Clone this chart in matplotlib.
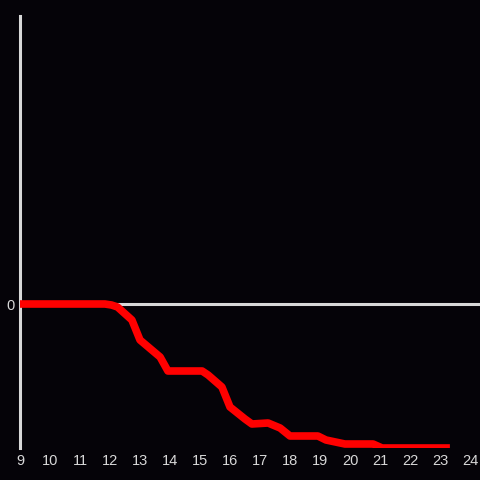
import matplotlib
matplotlib.use("Agg")
import matplotlib.pyplot as plt

# hour of day and running value (arbitrary units, 0 = baseline)
hours = [9.0, 11.83, 12.05, 12.25, 12.73, 13.0, 13.67, 13.93, 15.07, 15.27,
         15.73, 16.0, 16.5, 16.73, 17.27, 17.67, 18.0, 18.93, 19.2, 19.83,
         20.77, 21.07, 23.33]
values = [0, 0, -1, -3, -16, -36, -53, -67, -67, -71,
          -83, -103, -115, -120, -119, -124, -132, -132, -136, -140,
          -140, -144, -144]
xticks = list(range(9, 25))

bg = "#050308"
fg = "#d8d8d8"

plt.rcParams["font.family"] = ["Liberation Sans", "DejaVu Sans"]

fig = plt.figure(figsize=(4.8, 4.8), dpi=100, facecolor=bg)
ax = fig.add_axes([20 / 480, 32 / 480, 460 / 480, 432 / 480], facecolor=bg)

ax.axhline(0, color=fg, lw=2.2, zorder=1)
ax.plot(hours, values, color="#ff0000", lw=5.5, solid_joinstyle="round",
        solid_capstyle="butt", zorder=3)

ax.set_xlim(9, 24 + 1 / 3)
ax.set_ylim(-144, 288)
ax.set_xticks(xticks)
ax.set_xticklabels([str(t) for t in xticks])
ax.set_yticks([0])
ax.set_yticklabels(["0"])
ax.tick_params(length=0, colors=fg, labelsize=10.5, pad=4)

for side in ["top", "right", "bottom"]:
    ax.spines[side].set_visible(False)
ax.spines["left"].set_color(fg)
ax.spines["left"].set_linewidth(2.2)

fig.savefig("out.png", dpi=100, facecolor=bg)
